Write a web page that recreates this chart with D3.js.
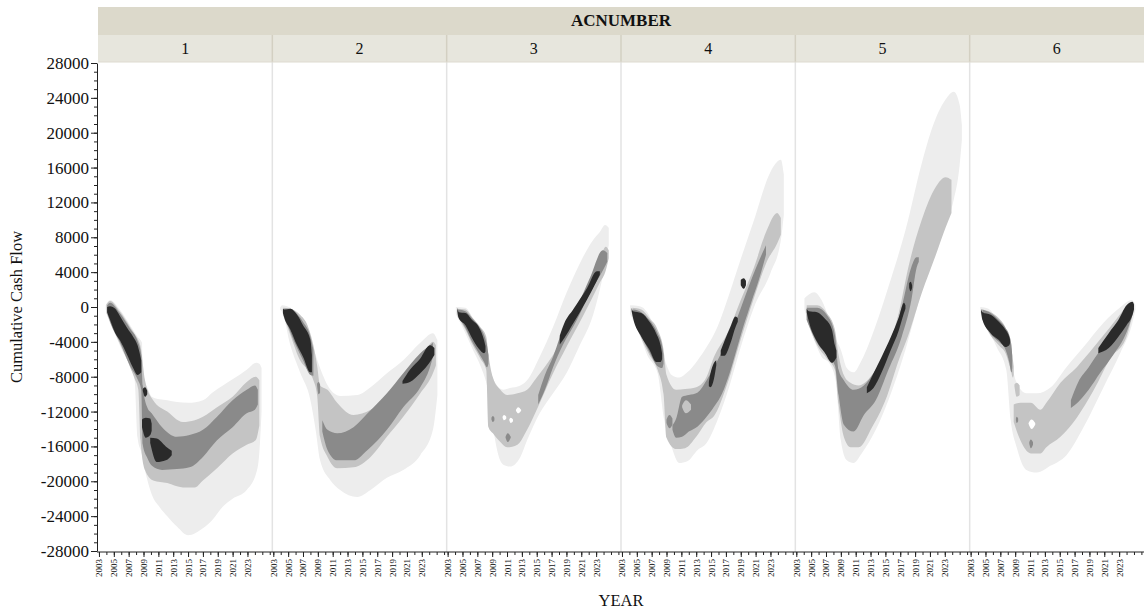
<!DOCTYPE html>
<html>
<head>
<meta charset="utf-8">
<script src="https://cdn.jsdelivr.net/npm/d3@7"></script>
<style>
  body { margin: 0; background: #fff; }
  svg { display: block; }
  text { font-family: "Liberation Serif", "Times New Roman", serif; fill: #111; }
</style>
</head>
<body>
<div id="chart"></div>
<script>
// facet categories and axis ticks
const acNumbers = ["1", "2", "3", "4", "5", "6"];
const yearLabels = [2003, 2005, 2007, 2009, 2011, 2013, 2015, 2017, 2019, 2021, 2023];
const yearMinorTicks = [2003, 2004, 2005, 2006, 2007, 2008, 2009, 2010, 2011, 2012, 2013, 2014, 2015,
    2016, 2017, 2018, 2019, 2020, 2021, 2022, 2023, 2024, 2025, 2026];
const cashTicks = [-28000, -24000, -20000, -16000, -12000, -8000, -4000, 0, 4000, 8000, 12000, 16000, 20000, 24000, 28000];

// density contour levels, from outer (lightest) to core (darkest)
// each level is a list of shapes, each shape a list of [YEAR, upper cash flow, lower cash flow]
const panel1 = [
    [[[2003.9, 200, -300], [2004.5, 800, -1500], [2005.8, -300, -4400], [2007.2, -2100, -6900], [2007.8, -2900, -8400],
      [2008.2, -3400, -15000], [2008.8, -4100, -17000], [2008.9, -8400, -17500], [2009.5, -9200, -19800], [2010.1, -10300, -21500],
      [2011.2, -10600, -23000], [2012.2, -10700, -24000], [2013.5, -10900, -25200], [2015.0, -11000, -26200], [2017.0, -10700, -25400],
      [2018.3, -9800, -24400], [2019.7, -9000, -22900], [2021.0, -8300, -22000], [2022.9, -7200, -21000], [2024.2, -6400, -19000],
      [2024.6, -6500, -16700], [2024.9, -7000, -12000]]],
    [[[2004.0, 300, -700], [2004.5, 700, -1800], [2005.8, -500, -4200], [2007.2, -2300, -6900], [2007.8, -3100, -8200],
      [2008.3, -3800, -9500], [2008.6, -4500, -15300], [2009.2, -8400, -18700], [2010.3, -10700, -19900], [2012.2, -12000, -20200],
      [2014.3, -13200, -20700], [2015.9, -13000, -20700], [2017.0, -12600, -19900], [2018.9, -11500, -18500], [2021.0, -10300, -16800],
      [2022.9, -8600, -15800], [2024.1, -8000, -15300], [2024.6, -8400, -13600]]],
    [[[2004.1, 200, -600], [2004.5, 500, -1700], [2005.8, -700, -4000], [2007.2, -2500, -6800], [2008.2, -3900, -8300],
      [2008.7, -5500, -9500], [2008.9, -9000, -15800], [2009.5, -11500, -17300], [2010.1, -12200, -18200], [2011.5, -13800, -18700],
      [2013.5, -14900, -18600], [2015.2, -14700, -18400], [2017.0, -14100, -17200], [2018.9, -12600, -15300], [2021.0, -10700, -13800],
      [2022.9, -9500, -12200], [2024.0, -9000, -11800], [2024.4, -9500, -11200]]],
    [[[2004.1, 0, -600], [2004.5, 100, -1500], [2005.2, -200, -3000], [2005.8, -1000, -3800], [2006.8, -2400, -5500],
      [2007.6, -3400, -7000], [2008.2, -4400, -7800], [2008.7, -6100, -7500]],
     [[2008.9, -9400, -9600], [2009.2, -9200, -10300], [2009.5, -9600, -10000]],
     [[2008.8, -12900, -13800], [2009.3, -12700, -15000], [2009.9, -12800, -14700], [2010.1, -13400, -14200]],
     [[2009.9, -15000, -15600], [2010.8, -15100, -17800], [2012.0, -16000, -17600], [2012.8, -16500, -17000]]]
];

const panel2 = [
    [[[2003.9, -100, -300], [2004.2, 200, -600], [2005.3, -100, -4400], [2006.6, -1300, -7500], [2008.0, -3800, -10700],
      [2008.7, -5500, -14100], [2009.3, -7000, -17600], [2010.7, -9500, -19900], [2012.0, -10200, -21000], [2014.3, -10100, -21800],
      [2016.1, -9200, -21000], [2018.3, -7600, -19600], [2020.5, -6100, -18700], [2022.8, -4100, -17000], [2024.5, -3000, -14100],
      [2025.1, -3800, -10100]]],
    [[[2004.3, -100, -900], [2005.3, -200, -3200], [2006.6, -900, -6100], [2007.6, -2100, -7200], [2008.4, -4400, -8400],
      [2008.9, -6700, -10100], [2009.3, -9000, -14900], [2010.3, -9500, -17200], [2011.6, -11000, -18500], [2013.8, -12400, -18400],
      [2016.1, -11800, -17200], [2018.3, -10300, -14900], [2020.5, -8400, -12600], [2022.8, -6400, -9900], [2024.5, -4000, -7600],
      [2024.9, -4400, -6700]]],
    [[[2004.5, -200, -1000], [2005.3, -200, -2900], [2006.2, -800, -4700], [2007.0, -1700, -6100], [2008.0, -3400, -7800],
      [2008.4, -4900, -7900]],
     [[2008.9, -8800, -9000], [2009.1, -8600, -10000], [2009.3, -8900, -9800]],
     [[2009.6, -13000, -14300], [2010.3, -14100, -16400], [2011.6, -14500, -17600], [2013.8, -13800, -17600], [2015.7, -12200, -16400],
      [2018.3, -9900, -14100], [2020.5, -7600, -11500], [2022.8, -5300, -9200], [2024.1, -4400, -6900], [2024.5, -4100, -5700]]],
    [[[2004.3, -200, -700], [2004.5, -300, -1300], [2005.3, -200, -2600], [2006.2, -900, -4400], [2007.0, -2100, -5700],
      [2008.0, -3800, -7500], [2008.2, -5500, -7500]],
     [[2020.4, -8500, -8800], [2021.4, -7200, -8600], [2022.8, -5900, -7600], [2024.1, -4400, -6300], [2024.7, -4700, -5500]]]
];

const panel3 = [
    [[[2004.1, 0, -800], [2005.4, -100, -3000], [2006.4, -1300, -4900], [2007.4, -3000, -6700], [2008.3, -5700, -9000],
      [2008.7, -7200, -10700], [2009.4, -8700, -15300], [2010.5, -9500, -18100], [2011.4, -9300, -18300], [2012.8, -9000, -17200],
      [2013.7, -8400, -15300], [2015.4, -5700, -12200], [2017.2, -2300, -9900], [2019.0, 1600, -7600], [2020.8, 5000, -4400],
      [2022.6, 7700, -900], [2023.5, 8600, 2000], [2024.2, 9400, 4800], [2024.7, 9100, 7100]]],
    [[[2004.3, -200, -1000], [2005.4, -300, -2600], [2006.4, -1300, -4400], [2007.4, -2300, -5900], [2008.2, -3400, -7200],
      [2008.5, -5500, -13800], [2009.1, -8100, -14500], [2010.1, -9500, -15500], [2011.0, -10100, -16100], [2012.4, -9900, -15800],
      [2013.7, -9500, -14100], [2015.0, -8100, -11800], [2017.2, -5500, -7600], [2019.0, -2900, -4600], [2021.2, 800, -1100],
      [2023.5, 5400, 2800], [2024.3, 6900, 4200], [2024.7, 6500, 5600]]],
    [[[2004.4, -300, -1100], [2005.4, -500, -2400], [2006.3, -1300, -4000], [2007.2, -2200, -5300], [2007.9, -3200, -6300],
      [2008.3, -4400, -6900], [2008.5, -5500, -6500]],
     [[2010.8, -14900, -15000], [2011.1, -14500, -15500], [2011.5, -14900, -15000]],
     [[2008.9, -12700, -12900], [2009.1, -12500, -13200], [2009.3, -12700, -13000]],
     [[2015.2, -10100, -11200], [2016.1, -7800, -9500], [2017.2, -5700, -6900], [2018.5, -2600, -4400], [2020.4, 0, -1500],
      [2022.2, 3400, 1700], [2023.9, 6500, 4200], [2024.5, 6200, 5200]]],
    [[[2004.3, -100, -500], [2004.5, -600, -1300], [2005.4, -700, -2100], [2006.3, -1500, -3600], [2007.2, -2300, -4800],
      [2007.9, -3800, -5300], [2008.1, -4500, -5100]],
     [[2018.1, -3300, -4300], [2018.7, -1900, -3600], [2019.9, -300, -1900], [2021.8, 2200, 900], [2023.1, 4100, 3000],
      [2023.5, 4100, 3700]]]
];

const panel4 = [
    [[[2004.1, 200, -800], [2005.4, 100, -3200], [2006.4, -600, -5500], [2007.8, -3400, -7600], [2008.7, -5900, -13000],
      [2009.7, -7800, -16100], [2010.7, -8100, -17900], [2011.8, -7500, -17700], [2013.2, -6100, -16400], [2014.4, -4600, -15600],
      [2015.9, -2200, -12900], [2017.5, 1600, -9000], [2019.0, 5500, -4600], [2020.8, 10000, 0], [2023.0, 15500, 3900],
      [2024.4, 16900, 7700], [2024.8, 15200, 10600]]],
    [[[2004.4, -100, -1000], [2005.6, -300, -3600], [2006.7, -1300, -5500], [2007.8, -2600, -7200], [2008.6, -4900, -10000],
      [2009.0, -7800, -15000], [2010.3, -9500, -16300], [2011.5, -9400, -16200], [2013.0, -9200, -14900], [2014.4, -8000, -13200],
      [2015.4, -5700, -12500], [2017.2, -3000, -8800], [2019.0, 800, -3700], [2020.8, 4600, 1100], [2022.5, 8800, 5200],
      [2023.9, 10800, 7300], [2024.4, 10200, 8300]]],
    [[[2004.5, -300, -1100], [2005.6, -600, -3300], [2006.7, -1500, -5200], [2007.8, -3000, -6800], [2008.4, -4400, -7000],
      [2008.6, -5500, -6500]],
     [[2009.0, -12900, -13300], [2009.4, -12400, -13900], [2009.8, -12800, -13500]],
     [[2009.8, -13600, -14100], [2010.3, -12800, -15000], [2011.1, -10300, -14900], [2012.0, -10100, -14300], [2013.2, -9800, -13700],
      [2014.4, -8400, -12600], [2015.2, -7200, -11700], [2016.5, -5100, -9900], [2017.5, -3600, -7600], [2018.5, -1300, -4700],
      [2019.4, 800, -2100], [2020.4, 3100, 500], [2021.5, 5400, 3300], [2022.4, 7100, 6000]]],
    [[[2004.3, -100, -500], [2004.5, -500, -1300], [2005.6, -700, -3400], [2006.7, -1700, -4900], [2007.6, -3000, -6300],
      [2008.2, -4400, -6300], [2008.4, -5300, -6000]],
     [[2014.7, -8600, -9100], [2014.9, -7700, -9200], [2015.4, -6400, -8200], [2015.7, -6100, -6700]],
     [[2016.3, -5000, -5600], [2016.8, -3900, -5600], [2017.6, -2300, -4200], [2018.3, -1100, -2300], [2018.6, -1300, -1700]],
     [[2019.0, 3100, 2500], [2019.4, 3300, 2100], [2019.7, 3000, 2500]]]
];

const panel5 = [
    [[[2004.1, 1000, -300], [2005.4, 1700, -3800], [2006.4, 800, -5700], [2007.4, -1300, -6400], [2008.3, -3600, -8400],
      [2009.0, -4900, -15300], [2009.8, -7000, -17600], [2010.7, -7500, -17900], [2011.8, -6100, -16800], [2013.7, -2100, -14100],
      [2015.4, 2300, -10700], [2017.7, 8800, -4900], [2019.9, 16500, 2000], [2021.2, 20300, 6200], [2023.1, 23800, 9400],
      [2024.2, 24700, 12300], [2025.0, 23200, 16300], [2025.3, 20900, 19200]]],
    [[[2004.4, 200, -1500], [2005.8, 200, -4400], [2007.1, -700, -5900], [2008.2, -2600, -7200], [2008.7, -5500, -11200],
      [2009.4, -7800, -14900], [2010.3, -8700, -16100], [2011.4, -9000, -16100], [2013.2, -7800, -13800], [2015.0, -5300, -10700],
      [2016.8, -700, -6100], [2018.1, 4600, -3200], [2019.9, 10000, 1600], [2021.8, 13800, 6000], [2023.1, 14900, 9100],
      [2023.9, 14600, 10800]]],
    [[[2004.4, -100, -1500], [2005.8, -100, -4100], [2007.1, -900, -5500], [2008.2, -3200, -6700], [2008.7, -7200, -10100],
      [2009.4, -8400, -13500], [2010.7, -9500, -14300], [2012.1, -9000, -12400], [2013.7, -7200, -10700], [2015.4, -4600, -7200],
      [2017.2, 0, -3400], [2018.5, 4600, 800], [2019.2, 5700, 4500], [2019.5, 5700, 5200]]],
    [[[2004.4, -200, -600], [2004.7, -500, -1700], [2005.8, -600, -4000], [2006.8, -1300, -5200], [2007.8, -2600, -6400],
      [2008.2, -4400, -6100], [2008.4, -5000, -5800]],
     [[2012.5, -9200, -9900], [2013.4, -7600, -9300], [2014.5, -5700, -7500], [2015.7, -3500, -5000], [2016.8, -1200, -2700],
      [2017.5, 500, -700], [2017.7, 200, -200]],
     [[2018.2, 2700, 2200], [2018.4, 2900, 1800], [2018.6, 2500, 2200]]]
];

const panel6 = [
    [[[2004.3, 0, -600], [2005.4, -200, -2600], [2006.5, -1500, -4600], [2007.8, -3800, -7200], [2008.4, -6100, -13000],
      [2009.2, -8700, -16100], [2010.5, -9900, -18700], [2011.9, -9900, -19000], [2013.8, -9200, -18200], [2015.9, -6900, -17000],
      [2018.2, -4600, -13800], [2020.9, -1800, -9200], [2023.2, 0, -5200], [2024.7, 800, -2100], [2025.2, 200, -300]]],
    [[[2004.5, -300, -1300], [2005.7, -600, -3300], [2006.8, -1300, -4400], [2007.8, -2600, -5500], [2008.4, -4400, -7200],
      [2008.7, -6100, -8100], [2008.8, -6800, -7800]],
     [[2008.9, -8900, -9100], [2009.2, -8700, -10300], [2009.6, -9000, -10100]],
     [[2008.8, -11200, -13200], [2009.7, -11000, -15300], [2011.1, -11000, -16800], [2012.4, -11800, -16800], [2013.2, -11000, -16100],
      [2015.1, -8700, -14900], [2017.3, -6900, -12700], [2019.6, -4600, -9500], [2021.8, -2300, -5900], [2024.0, 0, -3400],
      [2024.7, 500, -1300]]],
    [[[2004.6, -300, -1400], [2005.7, -700, -3100], [2006.8, -1500, -4000], [2007.7, -2400, -4900], [2008.2, -3200, -6300],
      [2008.5, -4400, -7500], [2008.6, -5500, -7000]],
     [[2010.9, -15500, -15700], [2011.1, -15200, -16200], [2011.4, -15500, -15800]],
     [[2009.1, -12800, -13000], [2009.2, -12600, -13300], [2009.4, -12800, -13100]],
     [[2016.5, -10700, -11600], [2017.5, -8600, -10900], [2018.9, -6900, -9500], [2020.5, -4900, -7500], [2022.2, -3200, -5500],
      [2024.0, -300, -2900], [2024.9, 500, -700]]],
    [[[2004.4, -200, -600], [2004.6, -600, -1500], [2005.7, -900, -3000], [2006.8, -1700, -3800], [2007.7, -2600, -4600],
      [2008.2, -3400, -4400], [2008.3, -3700, -4200]],
     [[2020.2, -4700, -5300], [2021.6, -3000, -4700], [2022.9, -1500, -3400], [2024.0, 200, -2100], [2024.8, 600, -900],
      [2025.0, 300, -300]]]
];

// gaps inside a level: [level shown in the gap (-1 = empty), shape]
const panel3Gaps = [
    [-1, [[2012.2, -11800, -11900], [2012.5, -11500, -12200], [2012.9, -11800, -11900]]],
    [-1, [[2010.4, -12600, -12700], [2010.6, -12400, -13000], [2010.9, -12600, -12800]]],
    [-1, [[2011.3, -12900, -13000], [2011.5, -12700, -13300], [2011.8, -12900, -13100]]]
];
const panel4Gaps = [
    [1, [[2011.1, -11300, -11500], [2011.6, -10700, -12200], [2012.3, -11200, -11800]]]
];
const panel6Gaps = [
    [-1, [[2010.8, -13300, -13400], [2011.2, -12900, -14000], [2011.7, -13300, -13500]]]
];

const panels = [panel1, panel2, panel3, panel4, panel5, panel6];
const panelGaps = [[], [], panel3Gaps, panel4Gaps, [], panel6Gaps];

const levelColors = ["#ededed", "#c4c4c4", "#8a8a8a", "#2a2a2a"];

// layout
const width = 1144, height = 611;
const plotLeft = 98, plotRight = 1144, plotTop = 63, plotBottom = 551;
const panelWidth = (plotRight - plotLeft) / acNumbers.length;

const svg = d3.select("#chart").append("svg")
    .attr("width", width)
    .attr("height", height);

const defs = svg.append("defs");
defs.append("filter")
    .attr("id", "soft")
    .attr("x", "-10%").attr("y", "-10%").attr("width", "120%").attr("height", "120%")
    .append("feGaussianBlur")
    .attr("stdDeviation", 0.7);

const xScale = d3.scaleLinear().domain([2002.87, 2026.35]).range([0, panelWidth]);
const yScale = d3.scaleLinear().domain([-28000, 28000]).range([plotBottom, plotTop]);

const area = d3.area()
    .x(d => xScale(d[0]))
    .y0(d => yScale(d[1]))
    .y1(d => yScale(d[2]))
    .curve(d3.curveMonotoneX);

// header strips
svg.append("rect")
    .attr("x", plotLeft).attr("y", 7)
    .attr("width", plotRight - plotLeft).attr("height", 28)
    .attr("fill", "#dcd9cb");

svg.append("text")
    .attr("x", (plotLeft + plotRight) / 2)
    .attr("y", 26)
    .attr("text-anchor", "middle")
    .style("font-size", "17px")
    .style("font-weight", "bold")
    .text("ACNUMBER");

// panels
panels.forEach((levels, i) => {
    let left = plotLeft + i * panelWidth;

    svg.append("rect")
        .attr("x", left).attr("y", 35)
        .attr("width", panelWidth).attr("height", 27)
        .attr("fill", "#e7e6dd");

    svg.append("text")
        .attr("x", left + panelWidth / 2)
        .attr("y", 54)
        .attr("text-anchor", "middle")
        .style("font-size", "16px")
        .text(acNumbers[i]);

    let g = svg.append("g")
        .attr("transform", `translate(${left},0)`);

    let contours = g.append("g").attr("filter", "url(#soft)");

    levels.forEach((shapes, li) => {
        contours.selectAll(`.level${li}`)
            .data(shapes)
            .enter()
            .append("path")
            .attr("class", `level${li}`)
            .attr("d", area)
            .attr("fill", levelColors[li]);
    });

    contours.selectAll(".gap")
        .data(panelGaps[i])
        .enter()
        .append("path")
        .attr("class", "gap")
        .attr("d", d => area(d[1]))
        .attr("fill", d => d[0] < 0 ? "#fff" : levelColors[d[0]]);

    // x-axis: minor ticks every year, labelled ticks every other year
    g.append("g")
        .attr("transform", `translate(0,${plotBottom + 1})`)
        .call(d3.axisBottom(xScale).tickValues(yearMinorTicks).tickSize(3).tickFormat(""))
        .call(a => a.select(".domain").remove());

    let xAxis = g.append("g")
        .attr("transform", `translate(0,${plotBottom + 1})`)
        .call(d3.axisBottom(xScale).tickValues(yearLabels).tickSize(5).tickSizeOuter(0).tickPadding(3)
            .tickFormat(d => String(d)));

    xAxis.select(".domain").remove();
    xAxis.selectAll("text")
        .attr("transform", "rotate(-90)")
        .attr("text-anchor", "end")
        .attr("x", -7)
        .attr("y", 0)
        .attr("dy", "0.33em")
        .style("font-size", "9px");
});

// panel separators
for (let i = 1; i < acNumbers.length; i++) {
    let sx = plotLeft + i * panelWidth;
    svg.append("line")
        .attr("x1", sx).attr("x2", sx)
        .attr("y1", 35).attr("y2", 62)
        .attr("stroke", "#d3d0c2")
        .attr("stroke-width", 1.5);
    svg.append("line")
        .attr("x1", sx).attr("x2", sx)
        .attr("y1", 62).attr("y2", plotBottom + 1)
        .attr("stroke", "#e3e3e3")
        .attr("stroke-width", 1.5);
}

svg.append("line")
    .attr("x1", plotLeft).attr("x2", plotRight)
    .attr("y1", 62).attr("y2", 62)
    .attr("stroke", "#dedbd0");

// x baseline
svg.append("line")
    .attr("x1", plotLeft - 1).attr("x2", plotRight)
    .attr("y1", plotBottom + 1).attr("y2", plotBottom + 1)
    .attr("stroke", "#222");

// y-axis
svg.append("g")
    .attr("transform", `translate(${plotLeft - 1},0)`)
    .call(d3.axisLeft(yScale).tickValues(d3.range(-28000, 28001, 1000)).tickSize(3).tickFormat(""))
    .call(a => a.select(".domain").remove());

let yAxis = svg.append("g")
    .attr("transform", `translate(${plotLeft - 1},0)`)
    .call(d3.axisLeft(yScale).tickValues(cashTicks).tickSize(6).tickSizeOuter(0).tickPadding(2)
        .tickFormat(d => String(d)));

yAxis.selectAll("text")
    .style("font-size", "17px");

svg.selectAll(".tick line").attr("stroke", "#222");
yAxis.select(".domain").attr("stroke", "#222");

// axis titles
svg.append("text")
    .attr("transform", `translate(22,${(plotTop + plotBottom) / 2}) rotate(-90)`)
    .attr("text-anchor", "middle")
    .style("font-size", "16.5px")
    .text("Cumulative Cash Flow");

svg.append("text")
    .attr("x", (plotLeft + plotRight) / 2)
    .attr("y", 606)
    .attr("text-anchor", "middle")
    .style("font-size", "16.5px")
    .text("YEAR");
</script>
</body>
</html>
